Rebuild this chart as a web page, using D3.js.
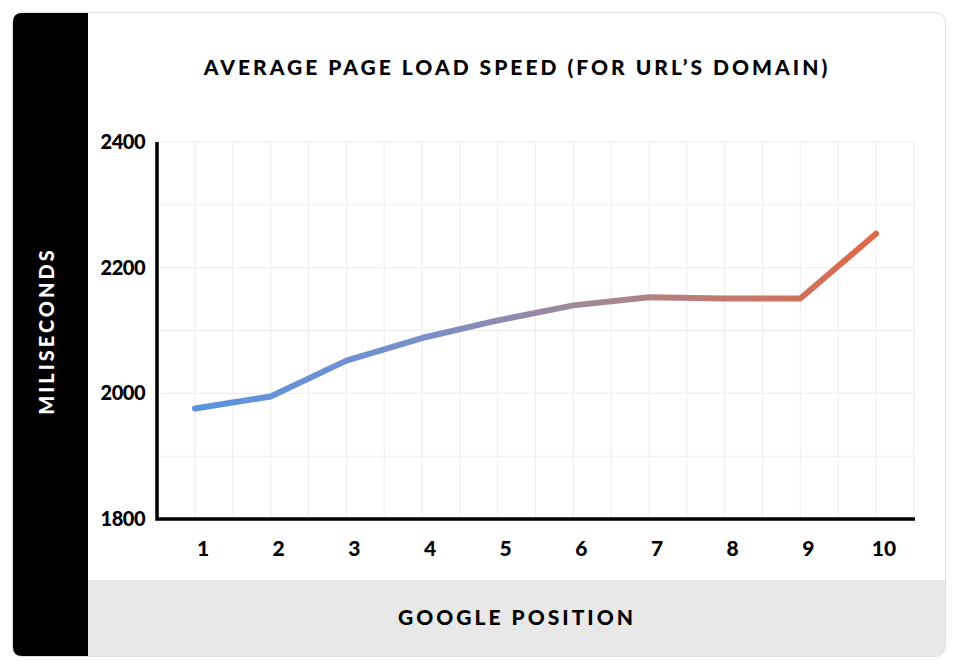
<!DOCTYPE html><html><head><meta charset="utf-8"><script src="https://cdn.jsdelivr.net/npm/d3@7"></script>
<style>body{margin:0;background:#fff}</style></head><body><svg id="c" width="962" height="669"></svg>
<script>
const positions=[1,2,3,4,5,6,7,8,9,10];
const speeds=[1976,1995,2052,2088,2116,2140,2153,2151,2151,2254];
const yTicks=[1800,2000,2200,2400];
const svg=d3.select("#c");
const F="Lato, 'Open Sans', sans-serif";
svg.append("rect").attr("x",12.5).attr("y",12.5).attr("width",933).attr("height",644).attr("rx",10).attr("fill","#fff").attr("stroke","#ddd");
svg.append("path").attr("d","M22,13 H88 V656 H22 Q13,656 13,647 V22 Q13,13 22,13Z").attr("fill","#000");
svg.append("path").attr("d","M88,580 H945 V647 Q945,656 936,656 H88Z").attr("fill","#e8e8e8");
svg.append("text").attr("x",517).attr("y",75).attr("text-anchor","middle").attr("font-family",F).attr("font-weight",900).attr("font-size",21).attr("letter-spacing",3).text("AVERAGE PAGE LOAD SPEED (FOR URL’S DOMAIN)");
svg.append("text").attr("x",517).attr("y",625).attr("text-anchor","middle").attr("font-family",F).attr("font-weight",900).attr("font-size",21).attr("letter-spacing",3).text("GOOGLE POSITION");
svg.append("text").attr("transform","translate(54,331) rotate(-90)").attr("text-anchor","middle").attr("fill","#fff").attr("font-family",F).attr("font-weight",900).attr("font-size",20).attr("letter-spacing",3).text("MILISECONDS");
const L=157,R=915,T=142,B=519;
const x=d3.scaleLinear().domain([1,10]).range([195,876]);
const y=d3.scaleLinear().domain([1800,2400]).range([B,T]);
const g=svg.append("g");
d3.range(1800,2401,100).forEach(v=>g.append("line").attr("x1",L).attr("x2",R).attr("y1",y(v)).attr("y2",y(v)).attr("stroke","#ececec"));
d3.range(1,10.6,0.5).forEach(v=>g.append("line").attr("x1",x(v)).attr("x2",x(v)).attr("y1",T).attr("y2",B).attr("stroke","#ececec"));
yTicks.forEach(v=>svg.append("text").attr("x",145).attr("y",y(v)+7).attr("text-anchor","end").attr("font-family",F).attr("font-weight",900).attr("font-size",20).attr("letter-spacing",-0.5).text(v));
positions.forEach(p=>svg.append("text").attr("x",x(p)+8).attr("y",556).attr("text-anchor","middle").attr("font-family",F).attr("font-weight",900).attr("font-size",21).text(p));
const grad=svg.append("defs").append("linearGradient").attr("id","gr").attr("gradientUnits","userSpaceOnUse").attr("x1",x(1)).attr("x2",x(10)).attr("y1",0).attr("y2",0);
grad.append("stop").attr("offset","0").attr("stop-color","#5b93e0");
grad.append("stop").attr("offset","0.35").attr("stop-color","#7a8fc8");
grad.append("stop").attr("offset","0.6").attr("stop-color","#a6888f");
grad.append("stop").attr("offset","1").attr("stop-color","#e06848");
svg.append("path").datum(positions.map((p,i)=>[p,speeds[i]])).attr("d",d3.line().x(d=>x(d[0])).y(d=>y(d[1]))).attr("fill","none").attr("stroke","url(#gr)").attr("stroke-width",6).attr("stroke-linecap","round").attr("stroke-linejoin","round");
svg.append("path").attr("d",`M${L},${T} V${B} H${R}`).attr("fill","none").attr("stroke","#000").attr("stroke-width",3.5);
</script></body></html>
